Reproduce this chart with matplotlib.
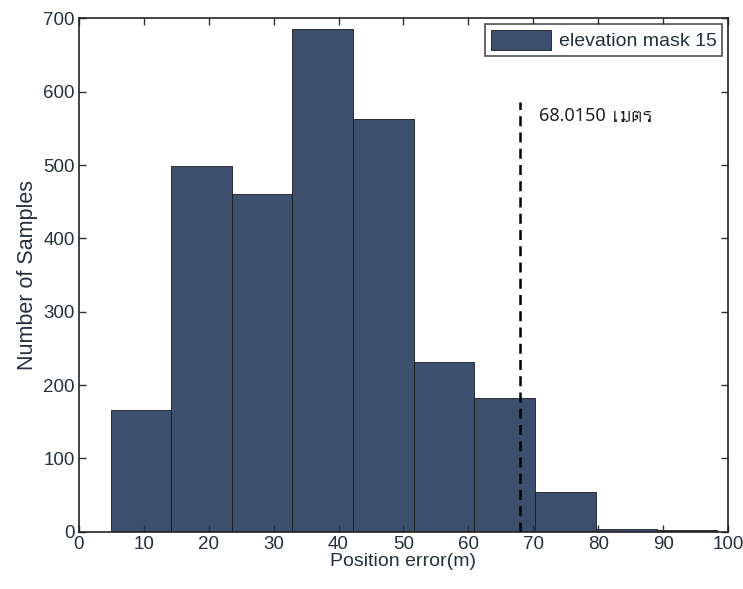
import matplotlib
matplotlib.use("Agg")
import matplotlib.pyplot as plt
from matplotlib import font_manager
from matplotlib.ft2font import FT2Font

# Histogram bins (MATLAB-style: 10 equal bins between min and max error)
bin_edges = [4.9, 14.2, 23.6, 32.9, 42.3, 51.6, 60.9, 70.3, 79.6, 89.0, 98.3]
counts = [166, 499, 460, 685, 563, 232, 183, 55, 4, 2]
threshold = 68.0150
threshold_value = "68.0150"
threshold_unit = "เมตร"
legend_label = "elevation mask 15"
x_ticks = [0, 10, 20, 30, 40, 50, 60, 70, 80, 90, 100]
y_ticks = [0, 100, 200, 300, 400, 500, 600, 700]


def thai_family():
    """Find an installed proportional font that can draw Thai script."""
    found = []
    for path in font_manager.findSystemFonts():
        try:
            cmap = FT2Font(path).get_charmap()
        except Exception:
            continue
        if all(ord(c) in cmap for c in threshold_unit):
            found.append(font_manager.FontProperties(fname=path).get_name())
    prop = [f for f in found if "mono" not in f.lower()]
    if prop:
        return prop[0]
    return found[0] if found else None


base_font = "Liberation Sans"
thai = thai_family()
unit_family = [thai, "DejaVu Sans"] if thai else ["DejaVu Sans"]

plt.rcParams["font.family"] = [base_font, "DejaVu Sans"]

ink = "#26303f"

fig = plt.figure(figsize=(7.43, 5.89), dpi=100)
ax = fig.add_axes([0.106, 0.097, 0.874, 0.872])

bar_color = "#3c4f6d"
widths = [b - a for a, b in zip(bin_edges[:-1], bin_edges[1:])]
ax.bar(bin_edges[:-1], counts, width=widths, align="edge",
       color=bar_color, edgecolor="#1a1a1a", linewidth=0.6,
       label=legend_label)

ax.plot([threshold, threshold], [0, 586], linestyle=(0, (4, 2.5)),
        color="black", linewidth=1.8)
value_txt = ax.text(threshold + 2.8, 560, threshold_value, fontsize=13,
                    family=["Noto Sans", "DejaVu Sans"], va="baseline",
                    ha="left", color="#222222")
ax.annotate(threshold_unit, xy=(1, 0), xycoords=value_txt,
            xytext=(3.5, 0), textcoords="offset points",
            fontsize=16, family=unit_family, va="bottom", ha="left",
            color="#222222")

ax.set_xlim(0, 100)
ax.set_ylim(0, 700)
ax.set_xticks(x_ticks)
ax.set_yticks(y_ticks)
ax.tick_params(direction="in", top=True, right=True, length=5,
               width=1, labelsize=13.5, colors=ink, pad=3)
for s in ax.spines.values():
    s.set_linewidth(1.2)
    s.set_color("#222222")

ax.set_xlabel("Position error(m)", fontsize=14, color=ink, labelpad=0)
ax.set_ylabel("Number of Samples", fontsize=15.5, color=ink, labelpad=4)

leg = ax.legend(loc="upper right", fontsize=14, frameon=True, fancybox=False,
                edgecolor="#222222", borderpad=0.3, handlelength=3.1,
                handleheight=1.2, handletextpad=0.4, borderaxespad=0.3)
leg.get_frame().set_linewidth(1.2)
for t in leg.get_texts():
    t.set_color(ink)

fig.savefig("out.png", dpi=100, facecolor="white")
